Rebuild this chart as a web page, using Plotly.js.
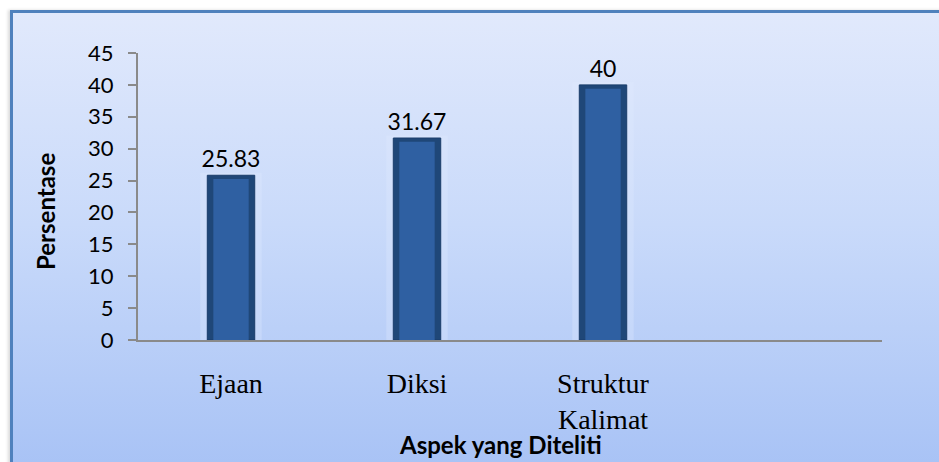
<!DOCTYPE html>
<html>
<head>
<meta charset="utf-8">
<script src="https://cdn.plot.ly/plotly-3.0.1.min.js"></script>
<style>
  html, body { margin: 0; padding: 0; background: #ffffff; }
  #wrap { position: relative; width: 939px; height: 462px; overflow: hidden; background: #ffffff; }
  #frame { position: absolute; left: 10px; top: 10px; width: 940px; height: 470px;
           border-left: 3px solid #4f81bd; border-top: 3px solid #4f81bd;
           background: linear-gradient(to bottom, #e1e9fc 0%, #c9dafa 45%, #a6c1f5 100%);
           box-shadow: -2px 0 3px rgba(0,0,0,0.15); }
  #chart { position: absolute; left: 0; top: 0; width: 939px; height: 462px; }
</style>
</head>
<body>
<div id="wrap">
  <div id="frame"></div>
  <div id="chart"></div>
</div>
<script>
const categories = ['Ejaan', 'Diksi', 'Struktur<br>Kalimat'];
const values = [25.83, 31.67, 40];
const valueLabels = ['25.83', '31.67', '40'];
const yTicks = [0, 5, 10, 15, 20, 25, 30, 35, 40, 45];

const halo = {
  type: 'bar', x: categories, y: values.map(v => v + 0.4), width: 0.33,
  marker: { color: 'rgba(225,235,255,0.3)', line: { width: 0 } },
  hoverinfo: 'skip', showlegend: false
};
const main = {
  type: 'bar', x: categories, y: values, width: 0.255,
  marker: { color: '#1f4778', line: { color: '#1a3d6a', width: 1 } },
  text: valueLabels, textposition: 'outside', cliponaxis: false, constraintext: 'none',
  textfont: { family: 'Lato, sans-serif', size: 23, color: '#000000' },
  showlegend: false
};
const inner = {
  type: 'bar', x: categories, y: values.map(v => v - 0.6), width: 0.19,
  marker: { color: '#2f60a2', line: { width: 0 } },
  hoverinfo: 'skip', showlegend: false
};

const layout = {
  width: 939, height: 462,
  margin: { l: 138, r: 57, t: 53, b: 122 },
  paper_bgcolor: 'rgba(0,0,0,0)', plot_bgcolor: 'rgba(0,0,0,0)',
  barmode: 'overlay',
  xaxis: {
    type: 'category', range: [-0.5, 3.5], fixedrange: true,
    showline: true, linecolor: '#8a8a8a', linewidth: 2,
    ticks: '', showgrid: false, zeroline: false,
    ticklabelstandoff: 17,
    tickfont: { family: '"Liberation Serif", "Times New Roman", serif', size: 28, color: '#000000' }
  },
  yaxis: {
    range: [0, 45], tickvals: yTicks, fixedrange: true,
    showline: true, linecolor: '#8a8a8a', linewidth: 2,
    ticks: 'outside', ticklen: 8, tickwidth: 2, tickcolor: '#8a8a8a',
    ticklabelstandoff: 10,
    showgrid: false, zeroline: false,
    tickfont: { family: 'Lato, sans-serif', size: 22, color: '#000000' }
  },
  annotations: [
    { text: '<b>Persentase</b>', xref: 'paper', yref: 'paper', x: (45 - 138) / 744, y: (340 - 212) / 287,
      textangle: -90, showarrow: false, xanchor: 'center', yanchor: 'middle',
      font: { family: 'Lato, sans-serif', size: 24, color: '#000000' } },
    { text: '<b>Aspek yang Diteliti</b>', xref: 'paper', yref: 'paper', x: (500 - 138) / 744, y: -(444 - 340) / 287,
      showarrow: false, xanchor: 'center', yanchor: 'middle',
      font: { family: 'Lato, sans-serif', size: 24, color: '#000000' } }
  ]
};

Plotly.newPlot('chart', [halo, main, inner], layout, { displayModeBar: false, staticPlot: true });
</script>
</body>
</html>
